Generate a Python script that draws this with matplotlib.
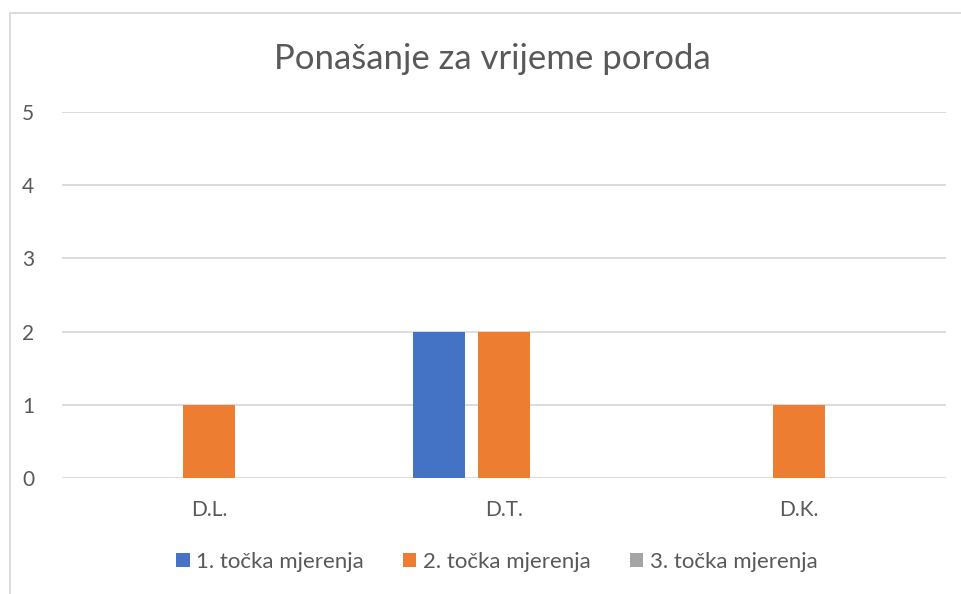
import matplotlib.pyplot as plt
import numpy as np
from matplotlib.patches import Rectangle

plt.rcParams['font.family'] = ['Lato', 'DejaVu Sans']

# podaci
kategorije = ["D.L.", "D.T.", "D.K."]
serije = ["1. točka mjerenja", "2. točka mjerenja", "3. točka mjerenja"]
tocka1 = [0, 2, 0]
tocka2 = [1, 2, 1]
tocka3 = [0, 0, 0]
boje = ["#4472C4", "#ED7D31", "#A5A5A5"]

fig = plt.figure(figsize=(9.61, 5.94), dpi=100)
ax = fig.add_axes([62 / 961, 116 / 594, 884 / 961, 366 / 594])

x = np.arange(len(kategorije))
sirina = 0.176
pomak = 0.22
for i, (vrijednosti, ime) in enumerate(zip([tocka1, tocka2, tocka3], serije)):
    ax.bar(x + (i - 1) * pomak, vrijednosti, sirina, color=boje[i], label=ime, zorder=3)

ax.set_xlim(-0.5, 2.5)
ax.set_ylim(0, 5)
ax.set_yticks(range(6))
ax.set_xticks(x)
ax.set_xticklabels(kategorije)
ax.grid(axis="y", color="#D9D9D9", linewidth=1.3, zorder=0)
for s in ax.spines.values():
    s.set_visible(False)
ax.tick_params(length=0, labelsize=15, labelcolor="#595959")
ax.tick_params(axis="x", pad=16)
ax.tick_params(axis="y", pad=20)

fig.text(492 / 961, 1 - 59 / 594, "Ponašanje za vrijeme poroda", ha="center", va="center",
         fontsize=25, color="#595959")

h, l = ax.get_legend_handles_labels()
fig.legend(h, l, loc="center", bbox_to_anchor=(497 / 961, 1 - 562 / 594), ncol=3, frameon=False,
           fontsize=16, labelcolor="#595959", handlelength=0.6, handleheight=0.6,
           handletextpad=0.3, columnspacing=1.75)

# okvir grafikona
fig.patches.append(Rectangle((10 / 961, -0.1), 1.2, 1 - 13 / 594 + 0.1, transform=fig.transFigure,
                             fill=False, edgecolor="#D9D9D9", linewidth=1.3))

plt.savefig("out.png", dpi=100)
